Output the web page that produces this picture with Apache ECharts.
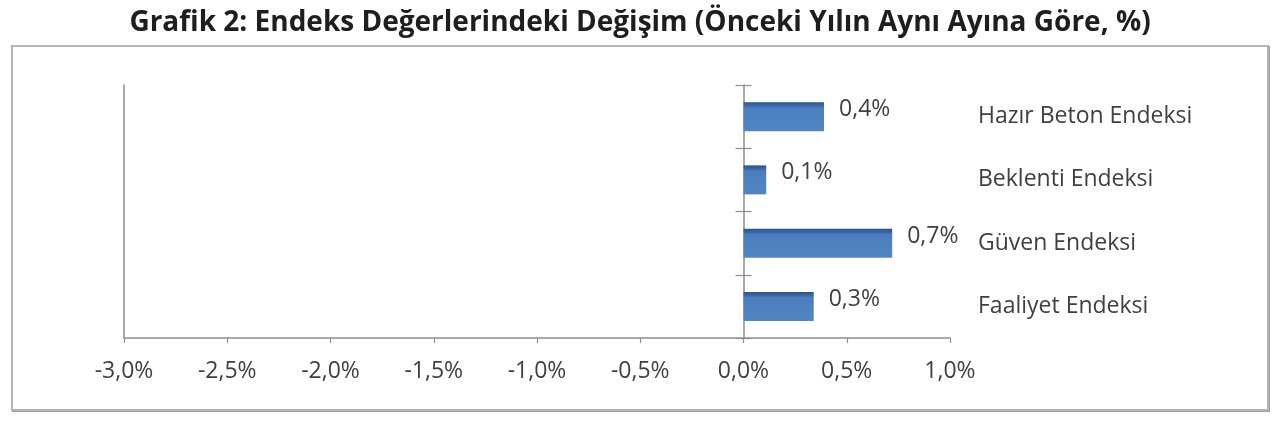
<!DOCTYPE html>
<html>
<head>
<meta charset="utf-8">
<script src="https://cdn.jsdelivr.net/npm/echarts@6/dist/echarts.min.js"></script>
<style>
  html, body { margin: 0; padding: 0; background: #ffffff; }
  #wrap { position: relative; width: 1280px; height: 427px; }
  #box { position: absolute; left: 11px; top: 45px; width: 1254px; height: 362px;
         border: 2px solid #b4b4b4; box-shadow: 1px 1px 0 #a0a0a0; background: #fff; }
  #chart { position: absolute; left: 0; top: 0; width: 1280px; height: 427px; }
</style>
</head>
<body>
<div id="wrap">
  <div id="box"></div>
  <div id="chart"></div>
</div>
<script>
const titleText = 'Grafik 2: Endeks Değerlerindeki Değişim (Önceki Yılın Aynı Ayına Göre, %)';
// bottom-to-top order
const categories = ['Faaliyet Endeksi', 'Güven Endeksi', 'Beklenti Endeksi', 'Hazır Beton Endeksi'];
const values = [0.34, 0.72, 0.11, 0.39];
const axisMin = -3.0;
const axisMax = 1.0;
const axisStep = 0.5;

const fmtPct = v => v.toFixed(1).replace('.', ',') + '%';
const FONT = '"Open Sans", "DejaVu Sans", sans-serif';
const AXIS_COLOR = '#8e8e8e';
const TEXT_COLOR = '#404040';

const chart = echarts.init(document.getElementById('chart'), null, { renderer: 'canvas' });
chart.setOption({
  backgroundColor: 'transparent',
  animation: false,
  title: {
    text: titleText,
    left: 'center',
    top: 4,
    textStyle: { fontFamily: FONT, fontSize: 28, fontWeight: 'bold', color: '#1e1e1e' }
  },
  grid: { left: 124, right: 330, top: 85, bottom: 89, containLabel: false, outerBoundsMode: 'none' },
  xAxis: [
    {
      type: 'value',
      min: axisMin,
      max: axisMax,
      interval: axisStep,
      position: 'bottom',
      axisLine: { show: true, onZero: false, lineStyle: { color: AXIS_COLOR, width: 1.5 } },
      axisTick: { show: true, length: 5, lineStyle: { color: AXIS_COLOR, width: 1.2 } },
      splitLine: { show: false },
      axisLabel: { formatter: fmtPct, fontFamily: FONT, fontSize: 23, color: TEXT_COLOR, margin: 22 }
    },
    {
      type: 'value',
      min: axisMin,
      max: axisMax,
      interval: axisStep,
      position: 'top',
      axisLine: { show: false, onZero: false },
      axisTick: { show: false },
      splitLine: { show: false },
      axisLabel: { show: false }
    }
  ],
  yAxis: [
    {
      type: 'category',
      data: categories,
      position: 'left',
      axisLine: { show: true, onZero: false, lineStyle: { color: AXIS_COLOR, width: 1.5 } },
      axisTick: { show: false },
      axisLabel: { show: false }
    },
    {
      type: 'category',
      data: categories,
      position: 'right',
      axisLine: { show: true, onZero: true, onZeroAxisIndex: 0, lineStyle: { color: AXIS_COLOR, width: 1.5 } },
      axisTick: { show: true, length: 8, lineStyle: { color: AXIS_COLOR, width: 1.2 } },
      axisLabel: { show: true, margin: 28, fontFamily: FONT, fontSize: 23, color: TEXT_COLOR }
    },
    {
      type: 'category',
      data: categories,
      position: 'left',
      axisLine: { show: false, onZero: true, onZeroAxisIndex: 1 },
      axisTick: { show: true, length: 8, lineStyle: { color: AXIS_COLOR, width: 1.2 } },
      axisLabel: { show: false }
    }
  ],
  series: [{
    type: 'bar',
    xAxisIndex: 0,
    yAxisIndex: 1,
    data: values,
    barWidth: 29,
    itemStyle: {
      color: new echarts.graphic.LinearGradient(0, 0, 0, 1, [
        { offset: 0, color: '#2b5384' },
        { offset: 0.13, color: '#3a6aa6' },
        { offset: 0.2, color: '#4a7ebf' },
        { offset: 1, color: '#5285c2' }
      ])
    },
    label: {
      show: true,
      position: 'right',
      distance: 15,
      offset: [0, -7],
      formatter: p => fmtPct(p.value),
      fontFamily: FONT,
      fontSize: 23,
      color: TEXT_COLOR
    }
  }]
});
</script>
</body>
</html>
